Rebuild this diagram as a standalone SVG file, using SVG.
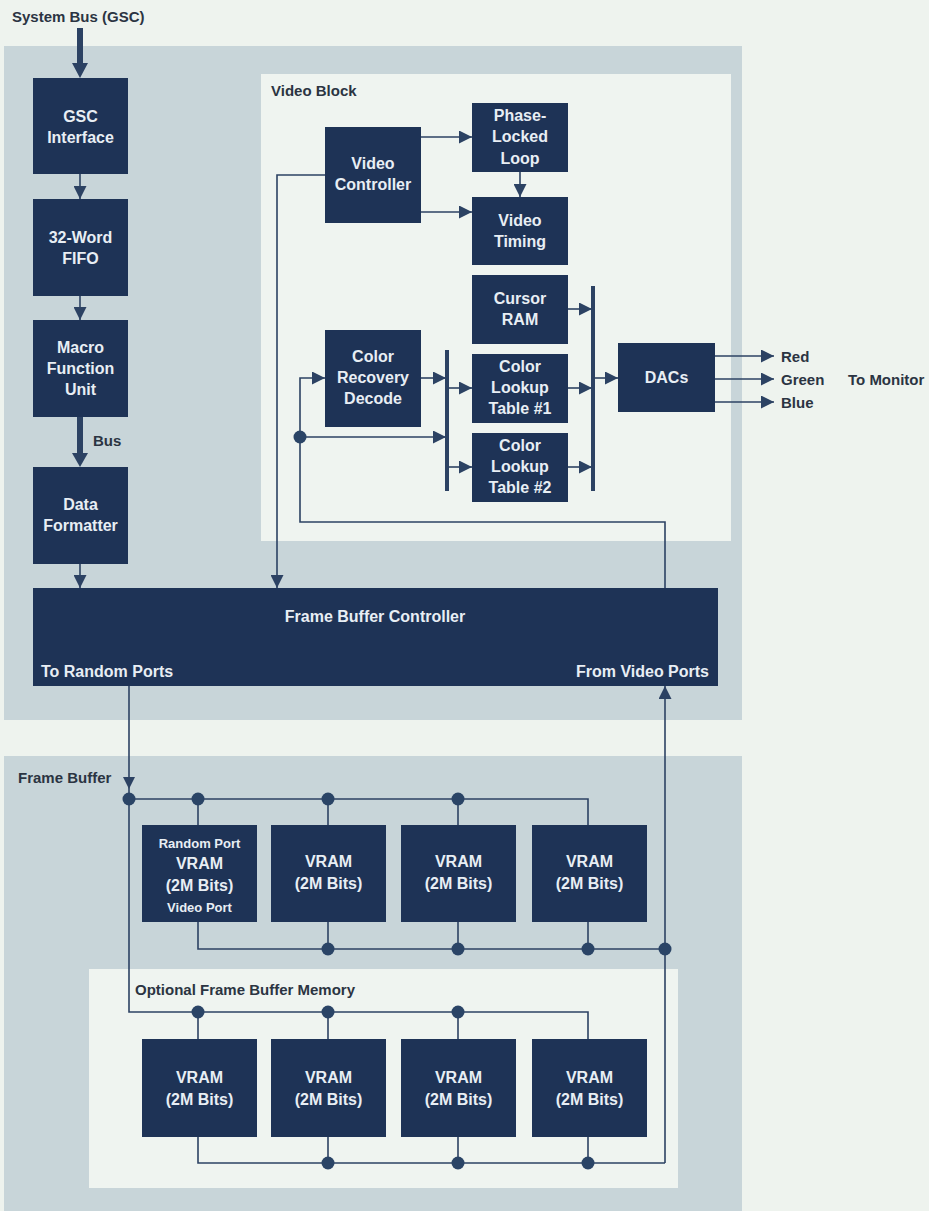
<svg xmlns="http://www.w3.org/2000/svg" width="929" height="1211" viewBox="0 0 929 1211">
<style>
.page{fill:#eef3ee}
.panel{fill:#c8d5d9}
.inner{fill:#eff4f0}
.box{fill:#1e3356}
.bt{font-family:"Liberation Sans",Arial,sans-serif;font-weight:bold;font-size:16px;fill:#e8eef4;text-anchor:middle}
.st{font-family:"Liberation Sans",Arial,sans-serif;font-weight:bold;font-size:13px;fill:#e8eef4;text-anchor:middle}
.lbl{font-family:"Liberation Sans",Arial,sans-serif;font-weight:bold;font-size:15px;fill:#2b3442}
.ln{fill:none;stroke:#2c4263;stroke-width:1.6}
.bus{fill:none;stroke:#2c4263;stroke-width:4}
.dot{fill:#2a4466}
.hd{fill:#2c4263}
</style>
<defs>
<marker id="ah" markerUnits="userSpaceOnUse" markerWidth="13" markerHeight="13" viewBox="0 0 12 12" refX="12" refY="6" orient="auto">
<path d="M0,0 L12,6 L0,12 z" fill="#2c4263"/>
</marker>
</defs>
<rect class="page" x="0" y="0" width="929" height="1211"/>
<rect class="panel" x="4" y="46" width="738" height="674"/>
<rect class="panel" x="4" y="756" width="738" height="455"/>
<g id="video-block"><rect class="inner" x="261" y="74" width="470" height="467"/><text class="lbl" x="271" y="96">Video Block</text></g>
<g id="optional-memory"><rect class="inner" x="89" y="969" width="589" height="219"/><text class="lbl" x="135" y="995">Optional Frame Buffer Memory</text></g>
<g id="frame-buffer-label"><text class="lbl" x="18" y="783">Frame Buffer</text></g>
<g id="system-bus-label"><text class="lbl" x="12" y="22">System Bus (GSC)</text></g>

<g id="connectors">
<rect class="hd" x="77" y="28" width="6" height="37"/><polygon class="hd" points="72,63 88,63 80,78"/>
<line class="ln" x1="80" y1="174" x2="80" y2="199" marker-end="url(#ah)"/>
<line class="ln" x1="80" y1="296" x2="80" y2="320" marker-end="url(#ah)"/>
<rect class="hd" x="77" y="417" width="6" height="38"/><polygon class="hd" points="72,453 88,453 80,467"/>
<text class="lbl" x="93" y="446">Bus</text>
<line class="ln" x1="80" y1="564" x2="80" y2="588" marker-end="url(#ah)"/>
<line class="ln" x1="421" y1="137" x2="472" y2="137" marker-end="url(#ah)"/>
<line class="ln" x1="421" y1="212" x2="472" y2="212" marker-end="url(#ah)"/>
<line class="ln" x1="520" y1="172" x2="520" y2="197" marker-end="url(#ah)"/>
<polyline class="ln" points="325,175 277,175 277,588" marker-end="url(#ah)"/>
<polyline class="ln" points="665,588 665,522 300,522 300,378 325,378" marker-end="url(#ah)"/>
<line class="ln" x1="300" y1="437" x2="446" y2="437" marker-end="url(#ah)"/>
<line class="ln" x1="421" y1="378" x2="446" y2="378" marker-end="url(#ah)"/>
<line class="ln" x1="447" y1="388" x2="472" y2="388" marker-end="url(#ah)"/>
<line class="ln" x1="447" y1="467" x2="472" y2="467" marker-end="url(#ah)"/>
<line class="bus" x1="447" y1="350" x2="447" y2="491"/>
<line class="ln" x1="568" y1="309" x2="592" y2="309" marker-end="url(#ah)"/>
<line class="ln" x1="568" y1="388" x2="592" y2="388" marker-end="url(#ah)"/>
<line class="ln" x1="568" y1="467" x2="592" y2="467" marker-end="url(#ah)"/>
<line class="bus" x1="593" y1="286" x2="593" y2="491"/>
<line class="ln" x1="593" y1="378" x2="618" y2="378" marker-end="url(#ah)"/>
<line class="ln" x1="715" y1="356" x2="774" y2="356" marker-end="url(#ah)"/>
<line class="ln" x1="715" y1="379" x2="774" y2="379" marker-end="url(#ah)"/>
<line class="ln" x1="715" y1="402" x2="774" y2="402" marker-end="url(#ah)"/>
<text class="lbl" x="781" y="362">Red</text>
<text class="lbl" x="781" y="385">Green</text>
<text class="lbl" x="781" y="408">Blue</text>
<text class="lbl" x="848" y="385">To Monitor</text>
<line class="ln" x1="129" y1="686" x2="129" y2="799"/>
<polygon class="hd" points="123,777 135,777 129,789"/>
<polyline class="ln" points="129,799 588,799 588,825"/>
<line class="ln" x1="198" y1="799" x2="198" y2="825"/>
<line class="ln" x1="328" y1="799" x2="328" y2="825"/>
<line class="ln" x1="458" y1="799" x2="458" y2="825"/>
<polyline class="ln" points="198,922 198,949 665,949"/>
<line class="ln" x1="328" y1="922" x2="328" y2="949"/>
<line class="ln" x1="458" y1="922" x2="458" y2="949"/>
<line class="ln" x1="588" y1="922" x2="588" y2="949"/>
<line class="ln" x1="665" y1="1163" x2="665" y2="686" marker-end="url(#ah)"/>
<polyline class="ln" points="129,799 129,1012 588,1012 588,1039"/>
<line class="ln" x1="198" y1="1012" x2="198" y2="1039"/>
<line class="ln" x1="328" y1="1012" x2="328" y2="1039"/>
<line class="ln" x1="458" y1="1012" x2="458" y2="1039"/>
<polyline class="ln" points="198,1137 198,1163 665,1163"/>
<line class="ln" x1="328" y1="1137" x2="328" y2="1163"/>
<line class="ln" x1="458" y1="1137" x2="458" y2="1163"/>
<line class="ln" x1="588" y1="1137" x2="588" y2="1163"/>
<circle class="dot" cx="300" cy="437" r="6.5"/>
<circle class="dot" cx="129" cy="799" r="6.5"/>
<circle class="dot" cx="198" cy="799" r="6.5"/>
<circle class="dot" cx="328" cy="799" r="6.5"/>
<circle class="dot" cx="458" cy="799" r="6.5"/>
<circle class="dot" cx="328" cy="949" r="6.5"/>
<circle class="dot" cx="458" cy="949" r="6.5"/>
<circle class="dot" cx="588" cy="949" r="6.5"/>
<circle class="dot" cx="665" cy="949" r="6.5"/>
<circle class="dot" cx="198" cy="1012" r="6.5"/>
<circle class="dot" cx="328" cy="1012" r="6.5"/>
<circle class="dot" cx="458" cy="1012" r="6.5"/>
<circle class="dot" cx="328" cy="1163" r="6.5"/>
<circle class="dot" cx="458" cy="1163" r="6.5"/>
<circle class="dot" cx="588" cy="1163" r="6.5"/>
</g>

<g id="gsc-interface"><rect class="box" x="33" y="78" width="95" height="96"/><text class="bt" x="80.5" y="122">GSC</text><text class="bt" x="80.5" y="143">Interface</text></g>
<g id="fifo"><rect class="box" x="33" y="199" width="95" height="97"/><text class="bt" x="80.5" y="243">32-Word</text><text class="bt" x="80.5" y="264">FIFO</text></g>
<g id="macro-function-unit"><rect class="box" x="33" y="320" width="95" height="97"/><text class="bt" x="80.5" y="353">Macro</text><text class="bt" x="80.5" y="374">Function</text><text class="bt" x="80.5" y="395">Unit</text></g>
<g id="data-formatter"><rect class="box" x="33" y="467" width="95" height="97"/><text class="bt" x="80.5" y="510">Data</text><text class="bt" x="80.5" y="531">Formatter</text></g>
<g id="frame-buffer-controller"><rect class="box" x="33" y="588" width="685" height="98"/><text class="bt" x="375" y="622">Frame Buffer Controller</text><text class="bt" x="41" y="677" style="text-anchor:start">To Random Ports</text><text class="bt" x="709" y="677" style="text-anchor:end">From Video Ports</text></g>
<g id="video-controller"><rect class="box" x="325" y="127" width="96" height="96"/><text class="bt" x="373" y="169">Video</text><text class="bt" x="373" y="190">Controller</text></g>
<g id="pll"><rect class="box" x="472" y="103" width="96" height="69"/><text class="bt" x="520" y="121">Phase-</text><text class="bt" x="520" y="142">Locked</text><text class="bt" x="520" y="164">Loop</text></g>
<g id="video-timing"><rect class="box" x="472" y="197" width="96" height="68"/><text class="bt" x="520" y="226">Video</text><text class="bt" x="520" y="247">Timing</text></g>
<g id="cursor-ram"><rect class="box" x="472" y="275" width="96" height="69"/><text class="bt" x="520" y="304">Cursor</text><text class="bt" x="520" y="325">RAM</text></g>
<g id="color-recovery"><rect class="box" x="325" y="330" width="96" height="97"/><text class="bt" x="373" y="362">Color</text><text class="bt" x="373" y="383">Recovery</text><text class="bt" x="373" y="404">Decode</text></g>
<g id="clut1"><rect class="box" x="472" y="354" width="96" height="69"/><text class="bt" x="520" y="372">Color</text><text class="bt" x="520" y="393">Lookup</text><text class="bt" x="520" y="414">Table #1</text></g>
<g id="clut2"><rect class="box" x="472" y="433" width="96" height="69"/><text class="bt" x="520" y="451">Color</text><text class="bt" x="520" y="472">Lookup</text><text class="bt" x="520" y="493">Table #2</text></g>
<g id="dacs"><rect class="box" x="618" y="343" width="97" height="69"/><text class="bt" x="666.5" y="383">DACs</text></g>

<g id="vram1"><rect class="box" x="142" y="825" width="115" height="97"/><text class="st" x="199.5" y="848">Random Port</text><text class="bt" x="199.5" y="869">VRAM</text><text class="bt" x="199.5" y="891">(2M Bits)</text><text class="st" x="199.5" y="912">Video Port</text></g>
<g id="vram2"><rect class="box" x="271" y="825" width="115" height="97"/><text class="bt" x="328.5" y="867">VRAM</text><text class="bt" x="328.5" y="889">(2M Bits)</text></g>
<g id="vram3"><rect class="box" x="401" y="825" width="115" height="97"/><text class="bt" x="458.5" y="867">VRAM</text><text class="bt" x="458.5" y="889">(2M Bits)</text></g>
<g id="vram4"><rect class="box" x="532" y="825" width="115" height="97"/><text class="bt" x="589.5" y="867">VRAM</text><text class="bt" x="589.5" y="889">(2M Bits)</text></g>
<g id="vram5"><rect class="box" x="142" y="1039" width="115" height="98"/><text class="bt" x="199.5" y="1083">VRAM</text><text class="bt" x="199.5" y="1105">(2M Bits)</text></g>
<g id="vram6"><rect class="box" x="271" y="1039" width="115" height="98"/><text class="bt" x="328.5" y="1083">VRAM</text><text class="bt" x="328.5" y="1105">(2M Bits)</text></g>
<g id="vram7"><rect class="box" x="401" y="1039" width="115" height="98"/><text class="bt" x="458.5" y="1083">VRAM</text><text class="bt" x="458.5" y="1105">(2M Bits)</text></g>
<g id="vram8"><rect class="box" x="532" y="1039" width="115" height="98"/><text class="bt" x="589.5" y="1083">VRAM</text><text class="bt" x="589.5" y="1105">(2M Bits)</text></g>
</svg>
